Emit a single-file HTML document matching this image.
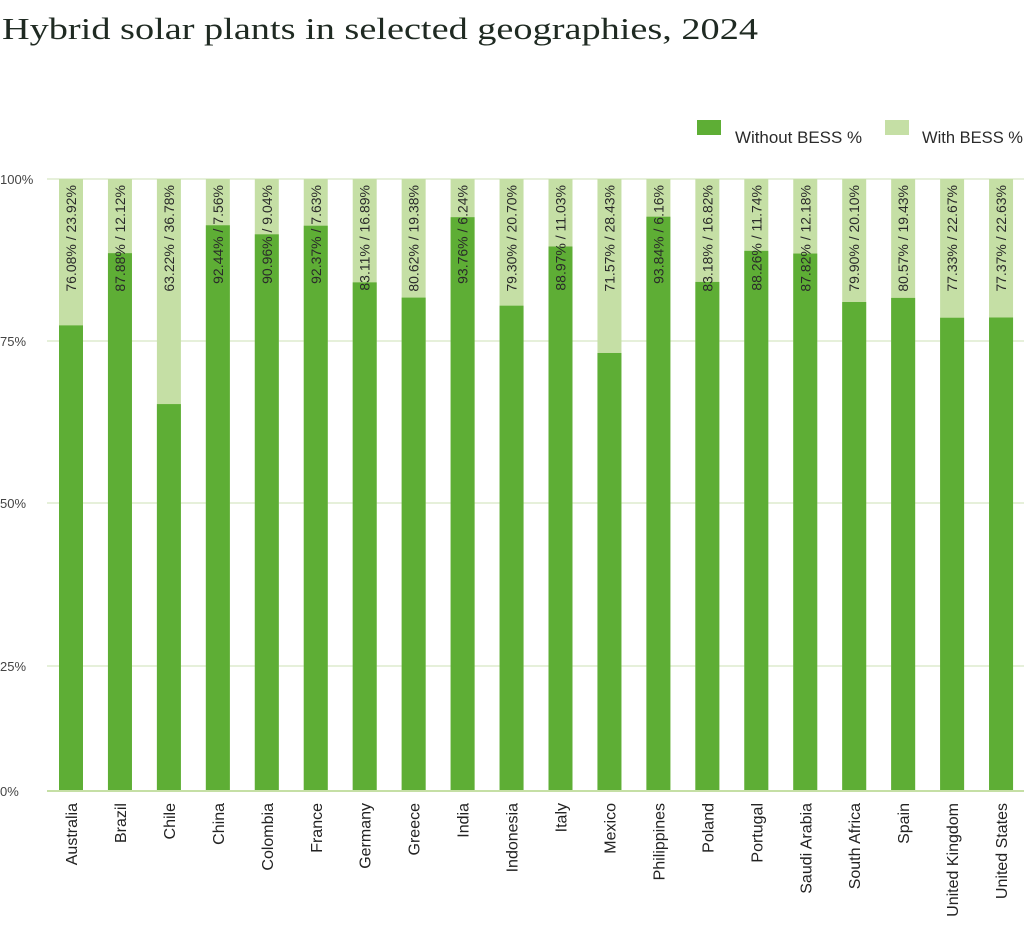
<!DOCTYPE html>
<html><head><meta charset="utf-8"><style>
html,body{margin:0;padding:0;background:#fff;}
svg{display:block;}
text{font-family:"Liberation Sans",sans-serif;}
.v{font-size:14px;fill:#2a2a2a;text-anchor:end;}
.c{font-size:16px;fill:#222;text-anchor:end;}
.l{fill:#c5dfa5;}
.d{fill:#5eae35;}
</style></head><body>
<svg width="1024" height="941" xmlns="http://www.w3.org/2000/svg">
<text x="2" y="39" font-size="31" fill="#1f2a22" textLength="756" lengthAdjust="spacingAndGlyphs" style="font-family:'Liberation Serif',serif">Hybrid solar plants in selected geographies, 2024</text>
<rect x="697" y="120" width="24" height="15" fill="#5eae35"/>
<text x="735" y="143" font-size="17" fill="#2a2a2a" textLength="127" lengthAdjust="spacingAndGlyphs">Without BESS %</text>
<rect x="885" y="120" width="24" height="15" fill="#c5dfa5"/>
<text x="922" y="143" font-size="17" fill="#2a2a2a" textLength="101" lengthAdjust="spacingAndGlyphs">With BESS %</text>
<g stroke="#d6e8c4" stroke-width="1.2">
<line x1="47" y1="179" x2="1024" y2="179"/>
<line x1="47" y1="341" x2="1024" y2="341"/>
<line x1="47" y1="503" x2="1024" y2="503"/>
<line x1="47" y1="666" x2="1024" y2="666"/>
</g>
<g font-size="13" fill="#444">
<text x="0" y="184">100%</text>
<text x="0" y="346">75%</text>
<text x="0" y="508">50%</text>
<text x="0" y="671">25%</text>
<text x="0" y="796">0%</text>
</g>

<g transform="translate(71,0)"><rect class="l" x="-12" y="179" width="24" height="612"/><rect class="d" x="-12" y="325.39" width="24" height="465.61"/><text class="v" transform="translate(5,185) rotate(-90)">76.08% / 23.92%</text><text class="c" transform="translate(6,803) rotate(-90)">Australia</text></g>
<g transform="translate(119.95,0)"><rect class="l" x="-12" y="179" width="24" height="612"/><rect class="d" x="-12" y="253.17" width="24" height="537.83"/><text class="v" transform="translate(5,185) rotate(-90)">87.88% / 12.12%</text><text class="c" transform="translate(6,803) rotate(-90)">Brazil</text></g>
<g transform="translate(168.9,0)"><rect class="l" x="-12" y="179" width="24" height="612"/><rect class="d" x="-12" y="404.09" width="24" height="386.91"/><text class="v" transform="translate(5,185) rotate(-90)">63.22% / 36.78%</text><text class="c" transform="translate(6,803) rotate(-90)">Chile</text></g>
<g transform="translate(217.85,0)"><rect class="l" x="-12" y="179" width="24" height="612"/><rect class="d" x="-12" y="225.27" width="24" height="565.73"/><text class="v" transform="translate(5,185) rotate(-90)">92.44% / 7.56%</text><text class="c" transform="translate(6,803) rotate(-90)">China</text></g>
<g transform="translate(266.8,0)"><rect class="l" x="-12" y="179" width="24" height="612"/><rect class="d" x="-12" y="234.32" width="24" height="556.68"/><text class="v" transform="translate(5,185) rotate(-90)">90.96% / 9.04%</text><text class="c" transform="translate(6,803) rotate(-90)">Colombia</text></g>
<g transform="translate(315.75,0)"><rect class="l" x="-12" y="179" width="24" height="612"/><rect class="d" x="-12" y="225.70" width="24" height="565.30"/><text class="v" transform="translate(5,185) rotate(-90)">92.37% / 7.63%</text><text class="c" transform="translate(6,803) rotate(-90)">France</text></g>
<g transform="translate(364.7,0)"><rect class="l" x="-12" y="179" width="24" height="612"/><rect class="d" x="-12" y="282.37" width="24" height="508.63"/><text class="v" transform="translate(5,185) rotate(-90)">83.11% / 16.89%</text><text class="c" transform="translate(6,803) rotate(-90)">Germany</text></g>
<g transform="translate(413.65,0)"><rect class="l" x="-12" y="179" width="24" height="612"/><rect class="d" x="-12" y="297.61" width="24" height="493.39"/><text class="v" transform="translate(5,185) rotate(-90)">80.62% / 19.38%</text><text class="c" transform="translate(6,803) rotate(-90)">Greece</text></g>
<g transform="translate(462.6,0)"><rect class="l" x="-12" y="179" width="24" height="612"/><rect class="d" x="-12" y="217.19" width="24" height="573.81"/><text class="v" transform="translate(5,185) rotate(-90)">93.76% / 6.24%</text><text class="c" transform="translate(6,803) rotate(-90)">India</text></g>
<g transform="translate(511.55,0)"><rect class="l" x="-12" y="179" width="24" height="612"/><rect class="d" x="-12" y="305.68" width="24" height="485.32"/><text class="v" transform="translate(5,185) rotate(-90)">79.30% / 20.70%</text><text class="c" transform="translate(6,803) rotate(-90)">Indonesia</text></g>
<g transform="translate(560.5,0)"><rect class="l" x="-12" y="179" width="24" height="612"/><rect class="d" x="-12" y="246.50" width="24" height="544.50"/><text class="v" transform="translate(5,185) rotate(-90)">88.97% / 11.03%</text><text class="c" transform="translate(6,803) rotate(-90)">Italy</text></g>
<g transform="translate(609.45,0)"><rect class="l" x="-12" y="179" width="24" height="612"/><rect class="d" x="-12" y="352.99" width="24" height="438.01"/><text class="v" transform="translate(5,185) rotate(-90)">71.57% / 28.43%</text><text class="c" transform="translate(6,803) rotate(-90)">Mexico</text></g>
<g transform="translate(658.4,0)"><rect class="l" x="-12" y="179" width="24" height="612"/><rect class="d" x="-12" y="216.70" width="24" height="574.30"/><text class="v" transform="translate(5,185) rotate(-90)">93.84% / 6.16%</text><text class="c" transform="translate(6,803) rotate(-90)">Philippines</text></g>
<g transform="translate(707.35,0)"><rect class="l" x="-12" y="179" width="24" height="612"/><rect class="d" x="-12" y="281.94" width="24" height="509.06"/><text class="v" transform="translate(5,185) rotate(-90)">83.18% / 16.82%</text><text class="c" transform="translate(6,803) rotate(-90)">Poland</text></g>
<g transform="translate(756.3,0)"><rect class="l" x="-12" y="179" width="24" height="612"/><rect class="d" x="-12" y="250.85" width="24" height="540.15"/><text class="v" transform="translate(5,185) rotate(-90)">88.26% / 11.74%</text><text class="c" transform="translate(6,803) rotate(-90)">Portugal</text></g>
<g transform="translate(805.25,0)"><rect class="l" x="-12" y="179" width="24" height="612"/><rect class="d" x="-12" y="253.54" width="24" height="537.46"/><text class="v" transform="translate(5,185) rotate(-90)">87.82% / 12.18%</text><text class="c" transform="translate(6,803) rotate(-90)">Saudi Arabia</text></g>
<g transform="translate(854.2,0)"><rect class="l" x="-12" y="179" width="24" height="612"/><rect class="d" x="-12" y="302.01" width="24" height="488.99"/><text class="v" transform="translate(5,185) rotate(-90)">79.90% / 20.10%</text><text class="c" transform="translate(6,803) rotate(-90)">South Africa</text></g>
<g transform="translate(903.15,0)"><rect class="l" x="-12" y="179" width="24" height="612"/><rect class="d" x="-12" y="297.91" width="24" height="493.09"/><text class="v" transform="translate(5,185) rotate(-90)">80.57% / 19.43%</text><text class="c" transform="translate(6,803) rotate(-90)">Spain</text></g>
<g transform="translate(952.1,0)"><rect class="l" x="-12" y="179" width="24" height="612"/><rect class="d" x="-12" y="317.74" width="24" height="473.26"/><text class="v" transform="translate(5,185) rotate(-90)">77.33% / 22.67%</text><text class="c" transform="translate(6,803) rotate(-90)">United Kingdom</text></g>
<g transform="translate(1001.05,0)"><rect class="l" x="-12" y="179" width="24" height="612"/><rect class="d" x="-12" y="317.50" width="24" height="473.50"/><text class="v" transform="translate(5,185) rotate(-90)">77.37% / 22.63%</text><text class="c" transform="translate(6,803) rotate(-90)">United States</text></g>

<line x1="47" y1="791" x2="1024" y2="791" stroke="#c5dfa5" stroke-width="2"/>
</svg>
</body></html>
